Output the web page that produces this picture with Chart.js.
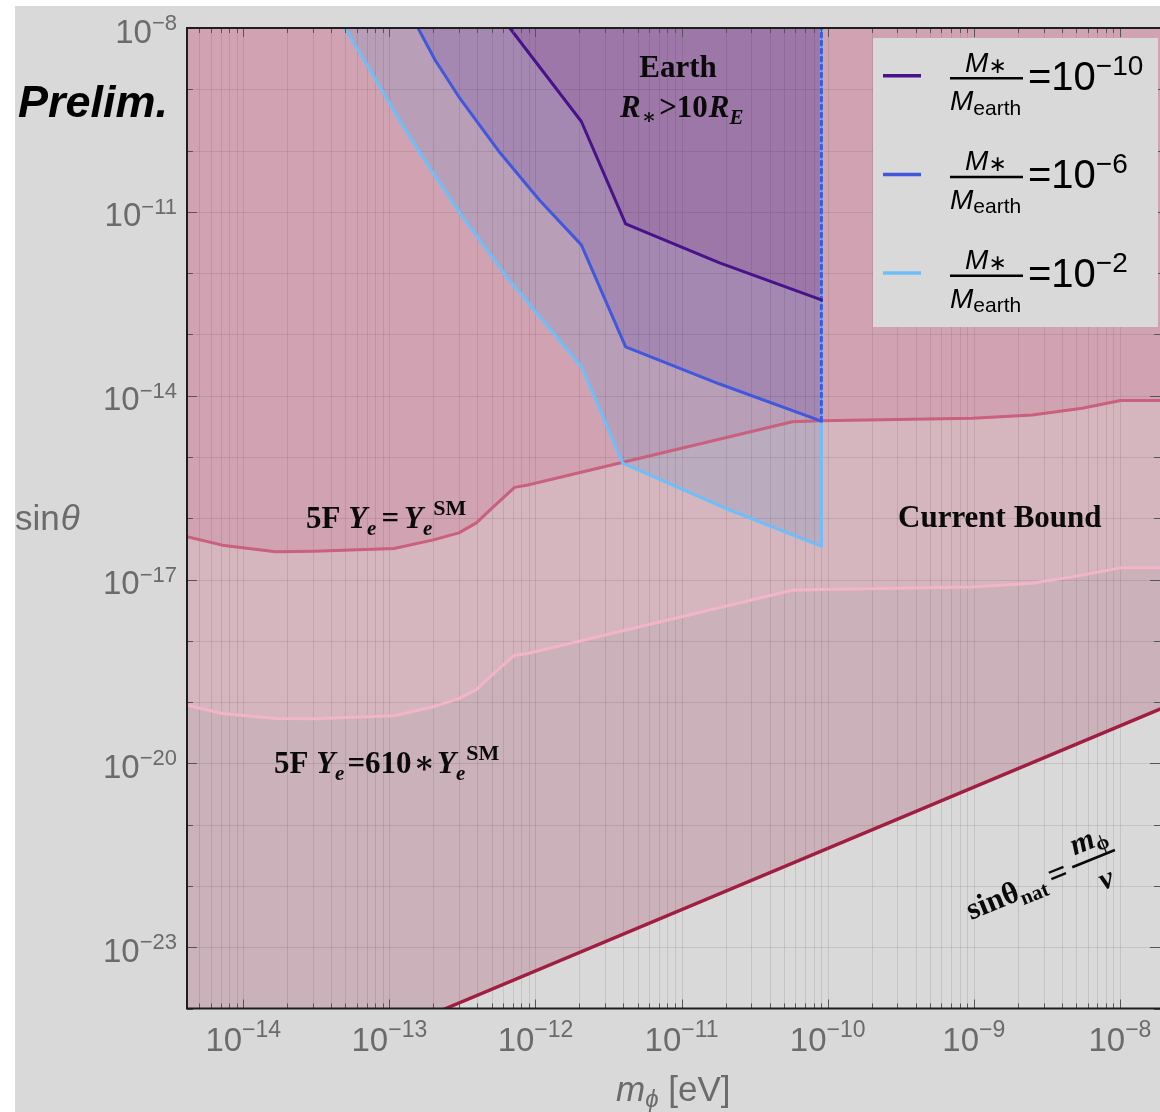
<!DOCTYPE html>
<html><head><meta charset="utf-8">
<script src="https://cdn.jsdelivr.net/npm/chart.js@4/dist/chart.umd.min.js"></script>
<style>html,body{margin:0;padding:0;background:#fff;overflow:hidden}canvas{display:block}</style>
</head><body>
<canvas id="c" width="1160" height="1112"></canvas>
<script>
// ---- axis ranges and tick labels ----
const xMin = 4.12e-15, xMax = 1.88e-8;
const yMin = 1e-24, yMax = 1e-8;
const xTickExps = [-14, -13, -12, -11, -10, -9, -8];
const yTickExps = [-8, -11, -14, -17, -20, -23];

// ---- M*/Mearth = 1e-10 (Earth, R* > 10 R_E) ----
const m10X = [6.67e-13, 2.06e-12, 4.14e-12, 1.82e-11, 9.05e-11, 9.05e-11];
const m10Y = [1e-8, 2.98e-10, 6.37e-12, 1.47e-12, 3.66e-13, 1e-8];
// ---- M*/Mearth = 1e-6 ----
const m6X = [1.57e-13, 2.05e-13, 3.04e-13, 5.70e-13, 1.07e-12, 2.06e-12, 4.14e-12, 1.82e-11, 9.05e-11, 9.05e-11];
const m6Y = [1e-8, 3.03e-9, 7.08e-10, 9.29e-11, 1.53e-11, 2.89e-12, 6.24e-14, 1.55e-14, 3.85e-15, 1e-8];
// ---- M*/Mearth = 1e-2 ----
const m2X = [4.97e-14, 7.37e-14, 1.18e-13, 1.62e-13, 3.04e-13, 6.37e-13, 2.07e-12, 3.95e-12, 1.97e-11, 9.05e-11, 9.05e-11];
const m2Y = [1e-8, 2.08e-9, 3.06e-10, 9.18e-11, 9.64e-12, 8.67e-13, 2.94e-14, 7.96e-16, 1.47e-16, 3.51e-17, 1e-8];
// ---- 5F bounds ----
const fiveFX = [4.12e-15, 7.18e-15, 1.66e-14, 3.05e-14, 1.075e-13, 1.97e-13, 2.99e-13, 3.94e-13, 4.87e-13, 7.19e-13, 8.86e-13, 5.73e-11, 8.91e-11, 9.75e-10, 2.51e-9, 5.51e-9, 1.01e-8, 1.88e-8];
const smY   = [4.98e-17, 3.64e-17, 2.83e-17, 2.90e-17, 3.21e-17, 4.40e-17, 5.78e-17, 8.42e-17, 1.36e-16, 3.19e-16, 3.48e-16, 3.76e-15, 3.90e-15, 4.27e-15, 4.83e-15, 6.22e-15, 8.34e-15, 8.34e-15];
const y610  = [8.87e-20, 6.50e-20, 5.38e-20, 5.35e-20, 5.98e-20, 8.33e-20, 1.14e-19, 1.60e-19, 2.57e-19, 5.82e-19, 6.21e-19, 6.70e-18, 6.89e-18, 7.56e-18, 8.73e-18, 1.18e-17, 1.55e-17, 1.55e-17];
// ---- natural line sin(theta) = m_phi / v ----
const natX = [4.12e-15, 2.43e-13, 1.88e-8];
const natY = [1.7e-26, 1e-24, 7.7e-20];

const zip = (xs, ys) => xs.map((x, i) => ({x, y: ys[i]}));

const SERIF = '"Liberation Serif", "DejaVu Serif", serif';
const SANS = '"Liberation Sans", "DejaVu Sans", sans-serif';
const COL = {
  m10: '#48138a', m6: '#4158dc', m2: '#6ebef8',
  sm: '#c8607e', y610: '#f2b4c8', nat: '#a01e41'
};

function rich(ctx, x, y, parts, align) {
  let w = 0;
  parts.forEach(p => { ctx.font = p.f; w += ctx.measureText(p.t).width + (p.pre || 0) + (p.post || 0); });
  let cx = align === 'center' ? x - w / 2 : (align === 'right' ? x - w : x);
  parts.forEach(p => {
    ctx.font = p.f; cx += (p.pre || 0);
    ctx.fillText(p.t, cx, y + (p.dy || 0));
    cx += ctx.measureText(p.t).width + (p.post || 0);
  });
  return w;
}

const overlay = {
  id: 'overlay',
  beforeDraw(chart) {
    const ctx = chart.ctx;
    ctx.save();
    ctx.fillStyle = '#ffffff'; ctx.fillRect(0, 0, chart.width, chart.height);
    ctx.fillStyle = '#d9d9d9'; ctx.fillRect(15, 6, chart.width - 15, chart.height - 6);
    ctx.restore();
  },
  beforeDatasetsDraw(chart) {
    // grid lines from the scales' ticks (drawn over the fills, under the curves)
    const {ctx, chartArea: a, scales: {x, y}} = chart;
    ctx.save();
    ctx.beginPath(); ctx.rect(a.left, a.top, a.right - a.left, a.bottom - a.top); ctx.clip();
    ctx.strokeStyle = 'rgba(60,40,50,0.12)'; ctx.lineWidth = 1;
    ctx.beginPath();
    x.ticks.forEach(t => { const px = Math.round(x.getPixelForValue(t.value)) + 0.5; ctx.moveTo(px, a.top); ctx.lineTo(px, a.bottom); });
    y.ticks.forEach(t => { const py = Math.round(y.getPixelForValue(t.value)) + 0.5; ctx.moveTo(a.left, py); ctx.lineTo(a.right, py); });
    ctx.stroke();
    ctx.restore();
  },
  afterDraw(chart) {
    const {ctx, chartArea: a, scales: {x, y}} = chart;
    ctx.save();
    // inner tick marks
    ctx.strokeStyle = '#555'; ctx.lineWidth = 1;
    ctx.beginPath();
    x.ticks.forEach(t => {
      const px = Math.round(x.getPixelForValue(t.value)) + 0.5;
      const major = Math.abs(Math.log10(t.value) - Math.round(Math.log10(t.value))) < 1e-6;
      const L = major ? 9 : 5;
      ctx.moveTo(px, a.bottom); ctx.lineTo(px, a.bottom - L);
      ctx.moveTo(px, a.top); ctx.lineTo(px, a.top + L);
    });
    y.ticks.forEach(t => {
      const py = Math.round(y.getPixelForValue(t.value)) + 0.5;
      const e = Math.round(Math.log10(t.value));
      const L = yTickExps.includes(e) ? 10 : 6;
      ctx.moveTo(a.left, py); ctx.lineTo(a.left + L, py);
      ctx.moveTo(a.right, py); ctx.lineTo(a.right - L, py);
    });
    ctx.stroke();
    // frame
    ctx.strokeStyle = '#1e1e1e'; ctx.lineWidth = 2;
    ctx.beginPath();
    ctx.moveTo(a.right + 2, a.top); ctx.lineTo(a.left, a.top); ctx.lineTo(a.left, a.bottom); ctx.lineTo(a.right + 2, a.bottom);
    ctx.stroke();

    // tick labels
    ctx.fillStyle = '#6b6b6b'; ctx.textBaseline = 'alphabetic';
    yTickExps.forEach(e => {
      const py = y.getPixelForValue(Math.pow(10, e));
      rich(ctx, 177, py, [
        {t: '10', f: '33px ' + SANS, dy: 14.6},
        {t: '\u2212' + Math.abs(e), f: '22px ' + SANS, dy: 2}
      ], 'right');
    });
    xTickExps.forEach(e => {
      const px = x.getPixelForValue(Math.pow(10, e));
      rich(ctx, px, a.bottom, [
        {t: '10', f: '33px ' + SANS, dy: 42},
        {t: '\u2212' + Math.abs(e), f: '23px ' + SANS, dy: 28.5}
      ], 'center');
    });
    // axis titles
    rich(ctx, 15, 530, [
      {t: 'sin', f: '35px ' + SANS},
      {t: '\u03b8', f: 'italic 35px ' + SANS, pre: 1}
    ]);
    rich(ctx, 616, 1101, [
      {t: 'm', f: 'italic 35px ' + SANS},
      {t: '\u03d5', f: 'italic 24px ' + SANS, dy: 6},
      {t: ' [eV]', f: '35px ' + SANS}
    ]);

    // Prelim.
    ctx.fillStyle = '#000';
    ctx.font = 'italic bold 45px ' + SANS;
    ctx.fillText('Prelim.', 18, 117);

    // annotations
    const B = 'bold 31px ' + SERIF, BI = 'italic bold 31px ' + SERIF;
    const bs = 'bold 21px ' + SERIF, bis = 'italic bold 21px ' + SERIF;
    ctx.fillStyle = '#0a0a0a';
    rich(ctx, 678, 77, [{t: 'Earth', f: B}], 'center');
    rich(ctx, 620, 117, [
      {t: 'R', f: BI}, {t: '\u2217', f: bs, dy: 7, pre: 1}, {t: '>10', f: B, pre: 3}, {t: 'R', f: BI, pre: 1}, {t: 'E', f: bis, dy: 7}
    ]);
    rich(ctx, 306, 528, [
      {t: '5F ', f: B}, {t: 'Y', f: BI}, {t: 'e', f: bis, dy: 7},
      {t: '=', f: B, pre: 5, post: 5}, {t: 'Y', f: BI}, {t: 'e', f: bis, dy: 7},
      {t: 'SM', f: 'bold 22px ' + SERIF, dy: -13, pre: 1}
    ]);
    rich(ctx, 274, 773, [
      {t: '5F ', f: B}, {t: 'Y', f: BI}, {t: 'e', f: bis, dy: 7},
      {t: '=610', f: B, pre: 3}, {t: '\u2217', f: B, pre: 2, post: 2}, {t: 'Y', f: BI}, {t: 'e', f: bis, dy: 7},
      {t: 'SM', f: 'bold 22px ' + SERIF, dy: -13, pre: 1}
    ]);
    rich(ctx, 898, 527, [{t: 'Current Bound', f: B}]);

    // rotated natural-line label
    ctx.save();
    ctx.translate(971, 920);
    ctx.rotate(-22 * Math.PI / 180);
    let u = rich(ctx, 0, 0, [
      {t: 'sin\u03b8', f: 'bold 31px ' + SERIF},
      {t: 'nat', f: 'bold 21px ' + SERIF, dy: 6},
      {t: '=', f: 'bold 34px ' + SERIF, pre: 5, post: 6}
    ]);
    const fw = 46;
    ctx.strokeStyle = '#0a0a0a'; ctx.lineWidth = 2.6;
    ctx.beginPath(); ctx.moveTo(u, -11); ctx.lineTo(u + fw, -11); ctx.stroke();
    rich(ctx, u + fw / 2 + 2, -21, [
      {t: 'm', f: 'italic bold 31px ' + SERIF},
      {t: '\u03d5', f: 'bold 21px ' + SERIF, dy: 5}
    ], 'center');
    rich(ctx, u + fw / 2 + 4, 22, [{t: 'v', f: 'italic bold 31px ' + SERIF}], 'center');
    ctx.restore();

    // legend
    const lx0 = 873, ly0 = 38, lx1 = 1158, ly1 = 327;
    ctx.fillStyle = '#d9d9d9';
    ctx.fillRect(lx0, ly0, lx1 - lx0, ly1 - ly0);
    const leg = [{c: COL.m10, e: '10'}, {c: COL.m6, e: '6'}, {c: COL.m2, e: '2'}];
    leg.forEach((it, i) => {
      const cy = 75.7 + i * 98.7;
      ctx.strokeStyle = it.c; ctx.lineWidth = 3.5;
      ctx.beginPath(); ctx.moveTo(883, cy); ctx.lineTo(921, cy); ctx.stroke();
      ctx.fillStyle = '#000';
      rich(ctx, 986, cy - 4, [
        {t: 'M', f: 'italic 28px ' + SANS},
        {t: '\u2217', f: '22px ' + SANS, dy: 1}
      ], 'center');
      ctx.strokeStyle = '#000'; ctx.lineWidth = 2.5;
      ctx.beginPath(); ctx.moveTo(950, cy + 2.6); ctx.lineTo(1023, cy + 2.6); ctx.stroke();
      rich(ctx, 950, cy + 34.5, [
        {t: 'M', f: 'italic 28px ' + SANS},
        {t: 'earth', f: '21px ' + SANS, dy: 4.5}
      ]);
      rich(ctx, 1028, cy + 14, [
        {t: '=10', f: '40px ' + SANS},
        {t: '\u2212' + it.e, f: '28px ' + SANS, dy: -15}
      ]);
    });
    ctx.restore();
  }
};

function decadeTicks(lo, hi) {
  const out = [];
  for (let e = Math.floor(Math.log10(lo)); e <= Math.ceil(Math.log10(hi)); e++) {
    const v = Math.pow(10, e);
    if (v >= lo * 0.999 && v <= hi * 1.001) out.push({value: v});
  }
  return out;
}
function minorTicks(lo, hi) {
  const out = [];
  for (let e = Math.floor(Math.log10(lo)); e <= Math.ceil(Math.log10(hi)); e++) {
    for (let k = 1; k <= 9; k++) {
      const v = k * Math.pow(10, e);
      if (v >= lo && v <= hi) out.push({value: v});
    }
  }
  return out;
}

const lineDs = (label, xs, ys, color, fillColor, order, width, extra) => Object.assign({
  label, data: zip(xs, ys), borderColor: color, backgroundColor: fillColor,
  fill: 'end', order, borderWidth: width, pointRadius: 0, tension: 0,
  borderJoinStyle: 'round', borderCapStyle: 'round'
}, extra || {});

new Chart(document.getElementById('c').getContext('2d'), {
  type: 'line',
  data: {
    datasets: [
      lineDs('M*/Mearth=1e-10', m10X, m10Y, COL.m10, 'rgba(138,78,145,0.30)', 1, 3, {
        segment: {borderColor: c => c.p1DataIndex === m10X.length - 1 ? 'rgba(0,0,0,0)' : undefined}
      }),
      lineDs('M*/Mearth=1e-6', m6X, m6Y, COL.m6, 'rgba(120,87,165,0.30)', 2, 3, {
        segment: {borderDash: c => c.p1DataIndex === m6X.length - 1 ? [4, 4] : undefined}
      }),
      lineDs('M*/Mearth=1e-2', m2X, m2Y, COL.m2, 'rgba(125,150,195,0.30)', 3, 3),
      lineDs('5F Ye=Ye SM', fiveFX, smY, COL.sm, 'rgba(195,95,130,0.20)', 5, 3),
      lineDs('5F Ye=610 Ye SM', fiveFX, y610, COL.y610, 'rgba(245,195,205,0.25)', 6, 3),
      lineDs('natural', natX, natY, COL.nat, 'rgba(150,30,70,0.21)', 7, 3.5)
    ]
  },
  options: {
    responsive: false, animation: false, devicePixelRatio: 1,
    layout: {padding: {top: 28, left: 0, right: 0, bottom: 0}},
    plugins: {legend: {display: false}, tooltip: {enabled: false}, filler: {drawTime: 'beforeDatasetsDraw'}},
    scales: {
      x: {
        type: 'logarithmic', min: xMin, max: xMax,
        grid: {display: false}, border: {display: false}, ticks: {display: false},
        afterBuildTicks: s => { s.ticks = minorTicks(xMin, xMax); },
        afterFit: s => { s.height = 103.5; }
      },
      y: {
        type: 'logarithmic', min: yMin, max: yMax,
        grid: {display: false}, border: {display: false}, ticks: {display: false},
        afterBuildTicks: s => { s.ticks = decadeTicks(yMin, yMax); },
        afterFit: s => { s.width = 187; }
      }
    }
  },
  plugins: [overlay]
});
</script>
</body></html>
